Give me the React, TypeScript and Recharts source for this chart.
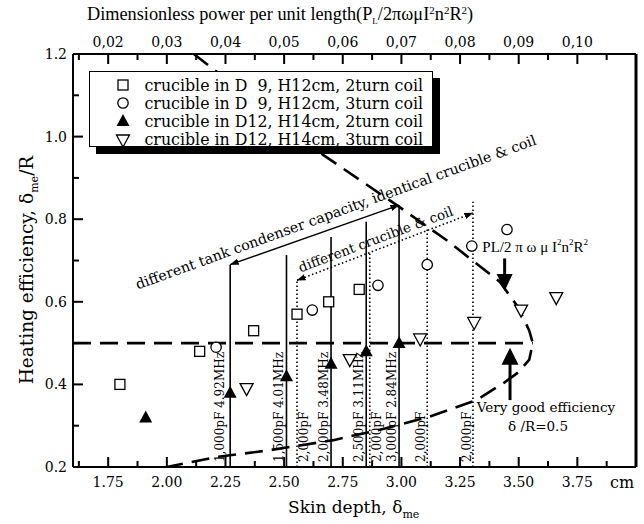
import React from "react";
import { ComposedChart, Scatter, XAxis, YAxis, ReferenceLine, ReferenceDot } from "recharts";

// legend / series
const seriesNames = [
  "crucible in D  9, H12cm, 2turn coil",
  "crucible in D  9, H12cm, 3turn coil",
  "crucible in D12, H14cm, 2turn coil",
  "crucible in D12, H14cm, 3turn coil",
];

const d9Turn2X = [1.8, 2.14, 2.37, 2.555, 2.69, 2.82];
const d9Turn2Y = [0.4, 0.48, 0.53, 0.57, 0.6, 0.63];
const d9Turn3X = [2.21, 2.62, 2.9, 3.11, 3.3, 3.45];
const d9Turn3Y = [0.49, 0.58, 0.64, 0.69, 0.735, 0.775];
const d12Turn2X = [1.91, 2.27, 2.51, 2.7, 2.85, 2.99];
const d12Turn2Y = [0.32, 0.38, 0.42, 0.45, 0.48, 0.5];
const d12Turn3X = [2.34, 2.78, 3.08, 3.31, 3.51, 3.66];
const d12Turn3Y = [0.39, 0.46, 0.51, 0.55, 0.58, 0.61];

// tank condenser lines (solid) and "different crucible" lines (dotted)
const capLineX = [2.27, 2.51, 2.7, 2.85, 2.99];
const capLineTop = [0.69, 0.713, 0.757, 0.794, 0.834];
const capLabels = ["1,000pF 4.92MHz", "1,500pF 4.01MHz", "2,000pF 3.48MHz", "2,500pF 3.11MHz", "3,000pF 2.84MHz"];
const dotLineX = [2.555, 2.865, 3.11, 3.305];
const dotLineTop = [0.652, 0.72, 0.778, 0.842];
const dotLabels = ["2,000pF", "2,000pF", "2,000pF", "2,000pF"];
const dotLabelSide = ["right", "right", "left", "left"];

// dashed envelope and delta/R = 0.5 line
const envX = [2.115, 2.668, 2.98, 3.193, 3.42, 3.5, 3.545, 3.56, 3.545, 3.5, 3.44, 3.32, 3.12, 2.93, 2.71, 2.43, 2.21, 2.0];
const envY = [1.2, 0.955, 0.834, 0.749, 0.648, 0.585, 0.53, 0.5, 0.46, 0.43, 0.405, 0.362, 0.322, 0.293, 0.265, 0.24, 0.224, 0.2];
const halfX = [1.6, 3.56];
const halfY = [0.5, 0.5];

const dotArrowX = [2.555, 3.305];
const dotArrowY = [0.652, 0.815];

const bottomTicks = [1.625, 1.75, 1.875, 2.0, 2.125, 2.25, 2.375, 2.5, 2.625, 2.75, 2.875, 3.0, 3.125, 3.25, 3.375, 3.5, 3.625, 3.75, 3.875];
const topTicks = [0.015, 0.02, 0.025, 0.03, 0.035, 0.04, 0.045, 0.05, 0.055, 0.06, 0.065, 0.07, 0.075, 0.08, 0.085, 0.09, 0.095, 0.1, 0.105];
const leftTicks = [0.2, 0.3, 0.4, 0.5, 0.6, 0.7, 0.8, 0.9, 1.0, 1.1, 1.2];

const X_DOMAIN = [1.6, 4.0];
const TOP_DOMAIN = [0.014, 0.11];
const Y_DOMAIN = [0.2, 1.2];

// chart frame
const W = 644;
const H = 524;
const MARGIN = { top: 30, right: 8, bottom: 27, left: 33 };
const Y_AXIS_W = 40;
const X_AXIS_H = 30;
const TOP_AXIS_H = 24;
const PLOT_L = MARGIN.left + Y_AXIS_W;
const PLOT_T = MARGIN.top + TOP_AXIS_H;
const PLOT_R = W - MARGIN.right;
const PLOT_B = H - MARGIN.bottom - X_AXIS_H;

const zip = (xs: number[], ys: number[]) => xs.map((x, i) => ({ x, y: ys[i] }));

const SERIF = "'DejaVu Serif', serif";
const TIMES = "'Liberation Serif', serif";

const isMult = (v: number, step: number) => Math.abs(v / step - Math.round(v / step)) < 1e-6;

const lin = (d: number[], r: number[]) => (v: number) => r[0] + ((v - d[0]) / (d[1] - d[0])) * (r[1] - r[0]);
const sx = lin(X_DOMAIN, [PLOT_L, PLOT_R]);
const sTop = lin(TOP_DOMAIN, [PLOT_L, PLOT_R]);
const sy = lin(Y_DOMAIN, [PLOT_B, PLOT_T]);

const BottomTick = (p: any) => {
  const v = p.payload.value;
  if (!isMult(v, 0.25)) return <g />;
  return (
    <text x={p.x} y={p.y + 20} textAnchor="middle" fontFamily={SERIF} fontSize={14} fill="#000" stroke="none">
      {v.toFixed(2)}
    </text>
  );
};

const TopTick = (p: any) => {
  const v = p.payload.value;
  if (!isMult(v, 0.01)) return <g />;
  return (
    <text x={p.x} y={p.y - 7} textAnchor="middle" fontFamily={SERIF} fontSize={14} fill="#000" stroke="none">
      {v.toFixed(2).replace(".", ",")}
    </text>
  );
};

const LeftTick = (p: any) => {
  const v = p.payload.value;
  if (!isMult(v, 0.2)) return <g />;
  return (
    <text x={p.x - 6} y={p.y + 5} textAnchor="end" fontFamily={SERIF} fontSize={14} fill="#000" stroke="none">
      {v.toFixed(1)}
    </text>
  );
};

// inward tick marks on all three axes
const TickMarks = () => (
  <svg
    width={W}
    height={H}
    style={{ position: "absolute", left: 0, top: 0, pointerEvents: "none" }}
  >
    {bottomTicks.map((t) => {
      const len = isMult(t, 0.25) ? 10 : 6;
      return <rect key={"b" + t} x={sx(t) - 1} y={PLOT_B - len} width={2} height={len} fill="#000" />;
    })}
    {topTicks.map((t) => {
      const len = isMult(t, 0.01) ? 10 : 6;
      return <rect key={"t" + t} x={sTop(t) - 1} y={PLOT_T} width={2} height={len} fill="#000" />;
    })}
    {leftTicks.map((t) => {
      const len = isMult(t, 0.2) ? 10 : 6;
      return <rect key={"l" + t} x={PLOT_L} y={sy(t) - 1} width={len} height={2} fill="#000" />;
    })}
  </svg>
);

const Square = (p: any) => (
  <rect x={p.cx - 5} y={p.cy - 5} width={10} height={10} fill="#fff" stroke="#000" strokeWidth={1.3} />
);
const Circle = (p: any) => <circle cx={p.cx} cy={p.cy} r={5.2} fill="#fff" stroke="#000" strokeWidth={1.3} />;
const TriUp = (p: any) => (
  <polygon points={`${p.cx},${p.cy - 7} ${p.cx - 6.5},${p.cy + 5} ${p.cx + 6.5},${p.cy + 5}`} fill="#000" />
);
const TriDown = (p: any) => (
  <polygon
    points={`${p.cx - 6.5},${p.cy - 5} ${p.cx + 6.5},${p.cy - 5} ${p.cx},${p.cy + 7}`}
    fill="#fff"
    stroke="#000"
    strokeWidth={1.3}
  />
);
const Nothing = () => <g />;

const markers = [Square, Circle, TriUp, TriDown];

const LegendIcon = ({ i }: { i: number }) => {
  const M = markers[i];
  return (
    <svg width={16} height={16} style={{ display: "block" }}>
      <M cx={8} cy={8} />
    </svg>
  );
};

const BigHead = (dir: "up" | "down") => (p: any) =>
  dir === "down" ? (
    <polygon points={`${p.cx - 8},${p.cy - 8} ${p.cx + 8},${p.cy - 8} ${p.cx},${p.cy + 9}`} fill="#000" />
  ) : (
    <polygon points={`${p.cx - 8.5},${p.cy + 8} ${p.cx + 8.5},${p.cy + 8} ${p.cx},${p.cy - 9}`} fill="#000" />
  );

const textAt = (content: React.ReactNode, dx: number, dy: number, opts: any = {}) => (p: any) => {
  const x = p.cx + dx;
  const y = p.cy + dy;
  return (
    <text
      x={x}
      y={y}
      transform={opts.rotate ? `rotate(${opts.rotate} ${x} ${y})` : undefined}
      textAnchor={opts.anchor || "start"}
      dominantBaseline={opts.baseline || "auto"}
      fontFamily={opts.font || SERIF}
      fontSize={opts.size || 12}
      fill="#000"
    >
      {content}
    </text>
  );
};

export default function App() {
  return (
    <div style={{ position: "absolute", left: 0, top: 0, width: W, height: H, background: "#fff" }}>
      <ComposedChart width={W} height={H} margin={MARGIN}>
        <defs>
          <marker
            id="head"
            viewBox="0 0 10 10"
            refX="9.5"
            refY="5"
            markerWidth="9"
            markerHeight="9"
            markerUnits="userSpaceOnUse"
            orient="auto-start-reverse"
          >
            <path d="M0,1.5 L10,5 L0,8.5 Z" fill="#000" />
          </marker>
        </defs>
        <XAxis
          type="number"
          dataKey="x"
          domain={X_DOMAIN}
          allowDataOverflow
          ticks={bottomTicks}
          interval={0}
          tickSize={0}
          tickMargin={0}
          tickLine={false}
          tick={BottomTick}
          height={X_AXIS_H}
          axisLine={{ stroke: "#000", strokeWidth: 2 }}
          label={{
            content: () => (
              <g>
                <text x={288} y={513} fontFamily={SERIF} fontSize={17} fill="#000">
                  Skin depth, δ
                  <tspan dy={5} fontSize={11}>me</tspan>
                </text>
                <text x={610} y={488} fontFamily={SERIF} fontSize={16} fill="#000">
                  cm
                </text>
              </g>
            ),
          }}
        />
        <XAxis
          xAxisId="top"
          orientation="top"
          type="number"
          dataKey="x"
          domain={TOP_DOMAIN}
          allowDataOverflow
          ticks={topTicks}
          interval={0}
          tickSize={0}
          tickMargin={0}
          tickLine={false}
          tick={TopTick}
          height={TOP_AXIS_H}
          axisLine={{ stroke: "#000", strokeWidth: 2 }}
          label={{
            content: () => (
              <text x={87} y={20} fontFamily={TIMES} fontSize={18.3} fill="#000">
                Dimensionless power per unit length(P
                <tspan dy={4} fontSize={9}>L</tspan>
                <tspan dy={-4}>/2πωμI</tspan>
                <tspan dy={-6} fontSize={11}>2</tspan>
                <tspan dy={6}>n</tspan>
                <tspan dy={-6} fontSize={11}>2</tspan>
                <tspan dy={6}>R</tspan>
                <tspan dy={-6} fontSize={11}>2</tspan>
                <tspan dy={6}>)</tspan>
              </text>
            ),
          }}
        />
        <YAxis
          type="number"
          dataKey="y"
          domain={Y_DOMAIN}
          allowDataOverflow
          ticks={leftTicks}
          interval={0}
          tickSize={0}
          tickMargin={0}
          tickLine={false}
          tick={LeftTick}
          width={Y_AXIS_W}
          axisLine={{ stroke: "#000", strokeWidth: 2 }}
          label={{
            content: () => (
              <text
                x={33}
                y={270}
                transform="rotate(-90 33 270)"
                textAnchor="middle"
                fontFamily={SERIF}
                fontSize={18.5}
                fill="#000"
              >
                Heating efficiency, δ
                <tspan dy={5} fontSize={11}>me</tspan>
                <tspan dy={-5}>/R</tspan>
              </text>
            ),
          }}
        />
        <ReferenceLine x={4.0} stroke="#000" strokeWidth={3} ifOverflow="visible" />
        {/* keeps the top axis attached to a series */}
        <Scatter xAxisId="top" data={[{ x: 0.05, y: 1.2 }]} shape={Nothing} isAnimationActive={false} />

        {/* envelope and 0.5 line */}
        <Scatter
          data={zip(envX, envY)}
          shape={Nothing}
          line={{ stroke: "#000", strokeWidth: 2.6, strokeDasharray: "18 9" }}
          isAnimationActive={false}
        />
        <Scatter
          data={zip(halfX, halfY)}
          shape={Nothing}
          line={{ stroke: "#000", strokeWidth: 2.6, strokeDasharray: "18 9" }}
          isAnimationActive={false}
        />

        {capLineX.map((x, i) => (
          <Scatter
            key={"cap" + i}
            data={zip([x, x], [0.2, capLineTop[i]])}
            shape={Nothing}
            line={{ stroke: "#000", strokeWidth: 1.6 }}
            isAnimationActive={false}
          />
        ))}
        {dotLineX.map((x, i) => (
          <Scatter
            key={"dot" + i}
            data={zip([x, x], [0.2, dotLineTop[i]])}
            shape={Nothing}
            line={{ stroke: "#000", strokeWidth: 1.6, strokeDasharray: "1.5 2.5" }}
            isAnimationActive={false}
          />
        ))}

        {/* arrows */}
        <Scatter
          data={zip([capLineX[0], capLineX[capLineX.length - 1]], [capLineTop[0], capLineTop[capLineTop.length - 1]])}
          shape={Nothing}
          line={{ stroke: "#000", strokeWidth: 1.5, markerStart: "url(#head)", markerEnd: "url(#head)" }}
          isAnimationActive={false}
        />
        <Scatter
          data={zip(dotArrowX, dotArrowY)}
          shape={Nothing}
          line={{
            stroke: "#000",
            strokeWidth: 1.6,
            strokeDasharray: "1.5 2.5",
            markerStart: "url(#head)",
            markerEnd: "url(#head)",
          }}
          isAnimationActive={false}
        />
        <Scatter
          data={zip([3.44, 3.44], [0.705, 0.665])}
          shape={Nothing}
          line={{ stroke: "#000", strokeWidth: 3 }}
          isAnimationActive={false}
        />
        <Scatter data={[{ x: 3.44, y: 0.648 }]} shape={BigHead("down")} isAnimationActive={false} />
        <Scatter
          data={zip([3.463, 3.463], [0.362, 0.45])}
          shape={Nothing}
          line={{ stroke: "#000", strokeWidth: 3 }}
          isAnimationActive={false}
        />
        <Scatter data={[{ x: 3.463, y: 0.467 }]} shape={BigHead("up")} isAnimationActive={false} />

        {/* data */}
        <Scatter data={zip(d9Turn2X, d9Turn2Y)} shape={Square} isAnimationActive={false} />
        <Scatter data={zip(d9Turn3X, d9Turn3Y)} shape={Circle} isAnimationActive={false} />
        <Scatter data={zip(d12Turn2X, d12Turn2Y)} shape={TriUp} isAnimationActive={false} />
        <Scatter data={zip(d12Turn3X, d12Turn3Y)} shape={TriDown} isAnimationActive={false} />

        {/* text annotations */}
        {capLineX.map((x, i) => (
          <ReferenceDot
            key={"cl" + i}
            x={x}
            y={0.2}
            r={1}
            ifOverflow="visible"
            shape={textAt(capLabels[i], i === 0 ? -6 : -3, -5, { rotate: -90 })}
          />
        ))}
        {dotLineX.map((x, i) => (
          <ReferenceDot
            key={"dl" + i}
            x={x}
            y={0.2}
            r={1}
            ifOverflow="visible"
            shape={textAt(dotLabels[i], dotLabelSide[i] === "right" ? 11 : -2, -5, { rotate: -90 })}
          />
        ))}
        <ReferenceDot
          x={2.72}
          y={0.817}
          r={1}
          ifOverflow="visible"
          shape={textAt("different tank condenser capacity, identical crucible & coil", 0, 0, {
            rotate: -20,
            anchor: "middle",
            baseline: "central",
            size: 14.3,
          })}
        />
        <ReferenceDot
          x={2.89}
          y={0.752}
          r={1}
          ifOverflow="visible"
          shape={textAt("different crucible & coil", 0, 0, {
            rotate: -20.5,
            anchor: "middle",
            baseline: "central",
            size: 13.5,
          })}
        />
        <ReferenceDot
          x={3.345}
          y={0.733}
          r={1}
          ifOverflow="visible"
          shape={textAt(
            <>
              PL/2 π ω μ I<tspan dy={-5} fontSize={9}>2</tspan>
              <tspan dy={5}>n</tspan>
              <tspan dy={-5} fontSize={9}>2</tspan>
              <tspan dy={5}>R</tspan>
              <tspan dy={-5} fontSize={9}>2</tspan>
            </>,
            0,
            0,
            { baseline: "central", font: TIMES, size: 15 }
          )}
        />
        <ReferenceDot
          x={3.463}
          y={0.362}
          r={1}
          ifOverflow="visible"
          shape={textAt("Very good efficiency", 36, 12, { anchor: "middle", size: 13.5 })}
        />
        <ReferenceDot
          x={3.463}
          y={0.362}
          r={1}
          ifOverflow="visible"
          shape={textAt("δ /R=0.5", 28, 31, { anchor: "middle", size: 13.5 })}
        />
      </ComposedChart>

      <TickMarks />

      <div
        style={{
          position: "absolute",
          left: 89,
          top: 71,
          width: 344,
          height: 76,
          boxSizing: "border-box",
          border: "1.5px solid #000",
          background: "#fff",
          boxShadow: "7px 7px 0 #000",
          paddingTop: 4,
          fontFamily: SERIF,
          fontSize: 15.8,
        }}
      >
        {seriesNames.map((name, i) => (
          <div key={name} style={{ display: "flex", alignItems: "center", height: 18.2 }}>
            <div style={{ width: 16, marginLeft: 25 }}>
              <LegendIcon i={i} />
            </div>
            <span style={{ whiteSpace: "pre", marginLeft: 13.5 }}>{name}</span>
          </div>
        ))}
      </div>
    </div>
  );
}
